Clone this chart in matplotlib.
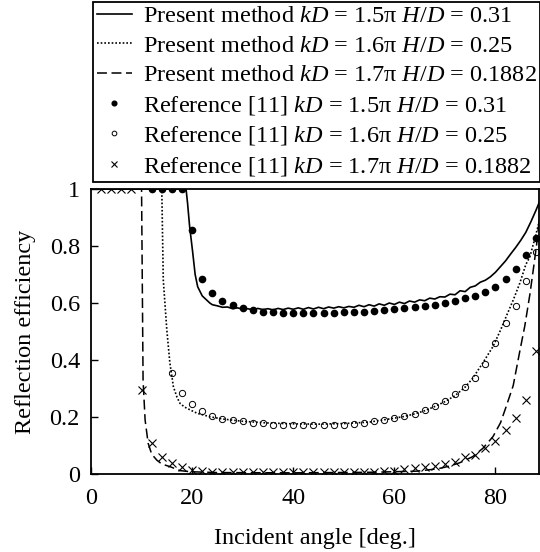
import numpy as np
import matplotlib
matplotlib.use("Agg")
import matplotlib.pyplot as plt

plt.rcParams['font.family'] = ['Liberation Serif', 'DejaVu Serif']
plt.rcParams['mathtext.fontset'] = 'custom'
plt.rcParams['mathtext.rm'] = 'Liberation Serif'
plt.rcParams['mathtext.it'] = 'Liberation Serif:italic'

# present method curves
ang_15 = [0, 18.8, 19.1, 19.5, 20.1, 20.6, 21.1, 22, 23.5, 24, 25, 26, 27, 28, 29, 30, 31, 32, 33,
          34, 35, 36, 37, 38, 39, 40, 41, 42, 43, 44, 45, 46, 47, 48, 49, 50, 51, 52, 53, 54, 55,
          56, 57, 58, 59, 60, 61, 62, 63, 64, 65, 66, 67, 68, 69, 70, 71, 72, 73, 74, 75, 76, 77,
          78, 79, 80, 81, 82, 83, 84, 85, 86, 87, 88, 88.7]
val_15_line = [1.0, 1.0, 0.95, 0.87, 0.78, 0.70, 0.657, 0.625, 0.600, 0.594, 0.590, 0.585, 0.586,
               0.580, 0.583, 0.578, 0.580, 0.576, 0.581, 0.577, 0.580, 0.576, 0.581, 0.577, 0.582,
               0.578, 0.583, 0.578, 0.584, 0.579, 0.585, 0.580, 0.586, 0.582, 0.587, 0.583, 0.588,
               0.585, 0.592, 0.587, 0.594, 0.589, 0.597, 0.592, 0.600, 0.595, 0.603, 0.598, 0.607,
               0.603, 0.611, 0.608, 0.617, 0.614, 0.622, 0.621, 0.631, 0.629, 0.643, 0.640, 0.655,
               0.660, 0.673, 0.680, 0.692, 0.708, 0.728, 0.748, 0.772, 0.795, 0.820, 0.848, 0.885,
               0.925, 0.955]

ang_16 = [0, 14.0, 14.3, 15.0, 15.6, 16.3, 17.0, 17.6, 18.5, 19.6, 21, 23.5, 26, 30, 35, 40, 45,
          50, 55, 60, 62, 64, 66, 68, 70, 72, 74, 75.5, 77.5, 79.5, 81, 82.1, 83.5, 84.8, 86,
          86.8, 88, 88.7]
val_16_line = [1.0, 1.0, 0.68, 0.505, 0.39, 0.306, 0.27, 0.248, 0.235, 0.225, 0.213, 0.201, 0.193,
               0.185, 0.179, 0.176, 0.175, 0.177, 0.182, 0.196, 0.202, 0.211, 0.222, 0.237, 0.254,
               0.275, 0.305, 0.336, 0.39, 0.447, 0.505, 0.552, 0.61, 0.669, 0.735, 0.762, 0.84,
               0.89]

ang_17 = [0, 10.0, 10.3, 10.7, 11.3, 12, 13, 14, 15.6, 17.6, 19.6, 25, 40, 55, 60, 64.4, 67, 69,
          71, 73, 75.5, 77.5, 79.5, 81, 82.1, 83.5, 84.8, 85.8, 86.8, 87.5, 88.1, 88.7]
val_17_line = [1.0, 1.0, 0.33, 0.19, 0.108, 0.07, 0.049, 0.035, 0.026, 0.012, 0.008, 0.005, 0.004,
               0.006, 0.008, 0.010, 0.015, 0.020, 0.028, 0.040, 0.061, 0.090, 0.131, 0.180, 0.236,
               0.31, 0.43, 0.52, 0.63, 0.72, 0.80, 0.90]

# reference [11] points
ang_ref_15 = list(range(12, 89, 2))
val_ref_15 = [1.0, 1.0, 1.0, 1.0, 0.856, 0.683, 0.634, 0.608, 0.593, 0.584, 0.575, 0.570, 0.567,
              0.566, 0.566, 0.566, 0.566, 0.566, 0.566, 0.568, 0.569, 0.570, 0.572, 0.575, 0.578,
              0.582, 0.586, 0.590, 0.594, 0.599, 0.607, 0.616, 0.624, 0.640, 0.657, 0.683, 0.718,
              0.768, 0.827]

ang_ref_16 = list(range(16, 89, 2))
val_ref_16 = [0.353, 0.283, 0.246, 0.222, 0.203, 0.194, 0.189, 0.185, 0.180, 0.178, 0.173, 0.172,
              0.171, 0.171, 0.171, 0.171, 0.171, 0.173, 0.176, 0.180, 0.185, 0.190, 0.196, 0.204,
              0.212, 0.226, 0.240, 0.257, 0.281, 0.304, 0.336, 0.386, 0.459, 0.529, 0.589, 0.678,
              0.780]

ang_ref_17 = list(range(2, 89, 2))
val_ref_17 = [1.0, 1.0, 1.0, 1.0, 0.295, 0.110, 0.061, 0.037, 0.023, 0.014, 0.010, 0.007, 0.006,
              0.006, 0.006, 0.006, 0.006, 0.006, 0.006, 0.006, 0.006, 0.006, 0.007, 0.007, 0.007,
              0.008, 0.008, 0.008, 0.009, 0.012, 0.016, 0.020, 0.023, 0.029, 0.035, 0.043, 0.061,
              0.067, 0.090, 0.117, 0.154, 0.195, 0.260, 0.430]

labels = [r"Present method $kD$ = 1.5π $H/D$ = 0.31",
          r"Present method $kD$ = 1.6π $H/D$ = 0.25",
          r"Present method $kD$ = 1.7π $H/D$ = 0.1882",
          r"Reference [11] $kD$ = 1.5π $H/D$ = 0.31",
          r"Reference [11] $kD$ = 1.6π $H/D$ = 0.25",
          r"Reference [11] $kD$ = 1.7π $H/D$ = 0.1882"]

fs = 17.5

fig = plt.figure(figsize=(5.4, 5.52), dpi=100)
ax = fig.add_axes([0.1685, 0.1413, 0.8296, 0.5163])

h1, = ax.plot(ang_15, val_15_line, 'k-', lw=1.2, label=labels[0])
h2, = ax.plot(ang_16, val_16_line, 'k', ls=(0, (1, 1.2)), lw=1.2, label=labels[1])
h3, = ax.plot(ang_17, val_17_line, 'k', ls=(0, (6.5, 3)), lw=1.1, label=labels[2])
h4, = ax.plot(ang_ref_15, val_ref_15, 'ko', ms=4.5, ls='none', label=labels[3])
h5, = ax.plot(ang_ref_16, val_ref_16, 'o', mfc='none', mec='k', mew=0.7, ms=4.5, ls='none',
              label=labels[4])
h6, = ax.plot(ang_ref_17, val_ref_17, 'kx', ms=6, mew=0.8, ls='none', label=labels[5])

ax.set_xlim(0, 88.6)
ax.set_ylim(0, 1)
ax.set_xticks([0, 20, 40, 60, 80])
ax.set_yticks([0, 0.2, 0.4, 0.6, 0.8, 1])
ax.set_yticklabels(['0', '0.2', '0.4', '0.6', '0.8', '1'])
ax.tick_params(direction='in', length=5, width=1, labelsize=fs, pad=8)
ax.tick_params(axis='x', pad=10)
for s in ax.spines.values():
    s.set_linewidth(1.3)

ax.set_xlabel("Incident angle [deg.]", fontsize=fs, labelpad=14)
ax.set_ylabel("Reflection efficiency", fontsize=fs, labelpad=10)

leg = fig.legend(handles=[h1, h2, h3, h4, h5, h6], loc='upper left',
                 bbox_to_anchor=(0.172, 0.997), fontsize=fs, frameon=True, fancybox=False,
                 edgecolor='k', framealpha=1, handlelength=1.45, handletextpad=0.45,
                 labelspacing=0.31, borderpad=0.15, borderaxespad=0, markerscale=0.75)
leg.get_frame().set_linewidth(1.3)

fig.savefig("out.png", dpi=100)
